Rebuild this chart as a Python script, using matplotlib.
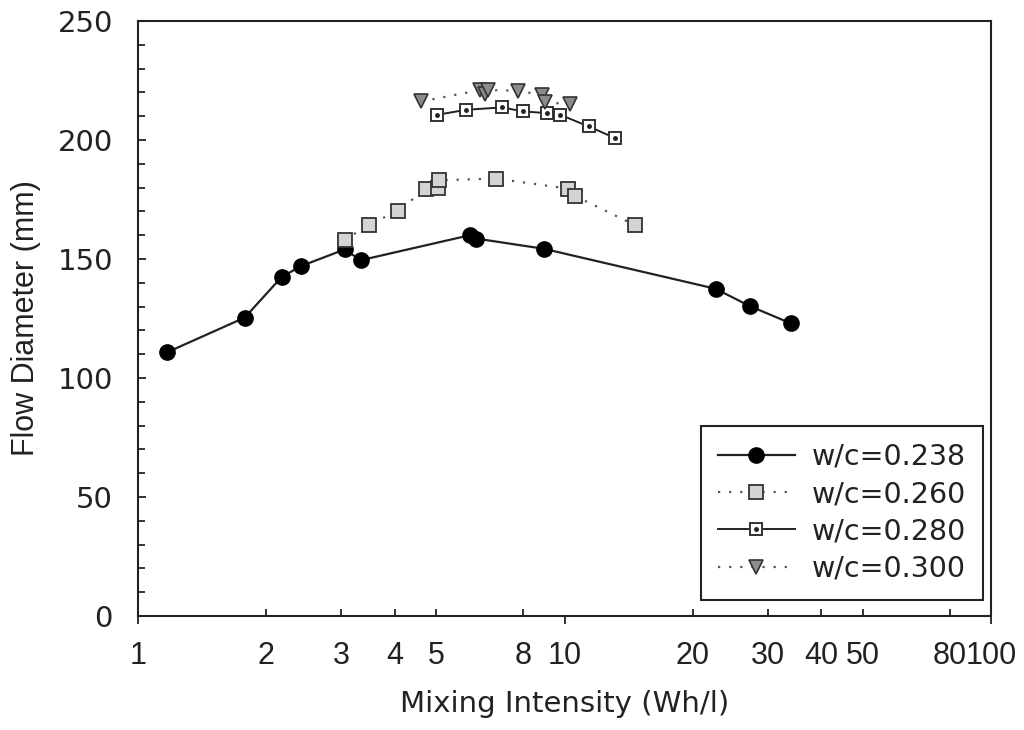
import numpy as np
import matplotlib.pyplot as plt
from matplotlib.ticker import FixedLocator, FixedFormatter, NullFormatter
from matplotlib.legend_handler import HandlerTuple

# =========================
# Measured flow diameters
# =========================
x_238 = [1.17, 1.78, 2.17, 2.41, 3.05, 3.33, 6.0, 6.2, 8.94, 22.6, 27.2, 34.0]
y_238 = [110.8, 125.4, 142.4, 147.0, 154.0, 149.5, 160.0, 158.6, 154.3, 137.5, 130.2, 122.9]

x_260 = [3.05, 3.48, 4.06, 4.73, 5.05, 5.08, 6.89, 10.17, 10.58, 14.6]
y_260 = [158.0, 164.4, 170.2, 179.3, 180.0, 183.1, 183.8, 179.6, 176.5, 164.3]

x_280 = [5.03, 5.89, 7.14, 8.0, 9.1, 9.77, 11.39, 13.15]
y_280 = [210.6, 212.7, 213.7, 212.0, 211.3, 210.6, 205.7, 200.8]

x_300 = [4.62, 6.35, 6.5, 6.6, 7.77, 8.86, 9.0, 10.28]
y_300 = [216.2, 221.0, 219.5, 221.0, 220.7, 218.9, 215.8, 215.1]

labels = ["w/c=0.238", "w/c=0.260", "w/c=0.280", "w/c=0.300"]

x_major = [1, 10, 100]
x_minor = [2, 3, 4, 5, 8, 20, 30, 40, 50, 80]

ink = "#222222"

# =========================
# Figure
# =========================
plt.rcParams["font.family"] = "DejaVu Sans"
fig = plt.figure(figsize=(10.24, 7.30), dpi=100)
ax = fig.add_axes([138 / 1024, 1 - 616 / 730, (991 - 138) / 1024, (616 - 21) / 730])

dots = (0, (1, 4))

l1, = ax.plot(x_238, y_238, color=ink, lw=1.6, marker="o", ms=11,
              mfc="black", mec="black")
l2, = ax.plot(x_260, y_260, color="#555555", lw=1.6, ls=dots, marker="s", ms=9.5,
              mfc="#d4d4d4", mec="#333333", mew=1.3)
l3, = ax.plot(x_280, y_280, color=ink, lw=1.4, marker="s", ms=8.5,
              mfc="white", mec="#333333", mew=1.4)
l3c, = ax.plot(x_280, y_280, ls="none", marker="o", ms=2.5, mfc=ink, mec=ink)
l4, = ax.plot(x_300, y_300, color="#555555", lw=1.6, ls=dots, marker="v", ms=9.5,
              mfc="#8c8c8c", mec="#333333", mew=1.2)

# =========================
# Axes
# =========================
ax.set_xscale("log")
ax.set_xlim(1, 100)
ax.set_ylim(0, 250)

ax.xaxis.set_major_locator(FixedLocator(x_major))
ax.xaxis.set_major_formatter(FixedFormatter([str(v) for v in x_major]))
ax.xaxis.set_minor_locator(FixedLocator(x_minor))
ax.xaxis.set_minor_formatter(FixedFormatter([str(v) for v in x_minor]))

ax.set_yticks(np.arange(0, 251, 50))
ax.set_yticks(np.arange(0, 251, 10), minor=True)
ax.yaxis.set_minor_formatter(NullFormatter())

ax.tick_params(axis="x", which="major", direction="out", length=6, width=1.3,
               pad=12, labelsize=22, colors=ink)
ax.tick_params(axis="x", which="minor", direction="in", length=5, width=1.3,
               pad=18, labelsize=22, colors=ink)
ax.tick_params(axis="y", which="major", direction="in", length=6, width=1.3,
               pad=18, labelsize=21, colors=ink)
ax.tick_params(axis="y", which="minor", direction="in", length=5, width=1.1)

# x tick numbers use a narrower face than the rest
for lab in ax.get_xticklabels(which="both"):
    lab.set_fontfamily(["Liberation Sans", "DejaVu Sans"])

for s in ax.spines.values():
    s.set_linewidth(1.5)
    s.set_color(ink)

ax.set_xlabel("Mixing Intensity (Wh/l)", fontsize=21, color=ink, labelpad=14)
ax.set_ylabel("Flow Diameter (mm)", fontsize=22, color=ink, labelpad=12,
              family=["Liberation Sans", "DejaVu Sans"])

# =========================
# Legend
# =========================
leg = ax.legend([l1, l2, (l3, l3c), l4], labels,
                handler_map={tuple: HandlerTuple(ndivide=1, pad=0)},
                loc="lower right", bbox_to_anchor=(0.9906, 0.027),
                fontsize=20.5, frameon=True, fancybox=False, framealpha=1,
                edgecolor=ink, handlelength=2.7, handletextpad=0.6,
                labelspacing=0.33, borderpad=0.6, borderaxespad=0.0)
leg.get_frame().set_linewidth(1.5)
for t in leg.get_texts():
    t.set_color(ink)

plt.savefig("out.png", dpi=100)
